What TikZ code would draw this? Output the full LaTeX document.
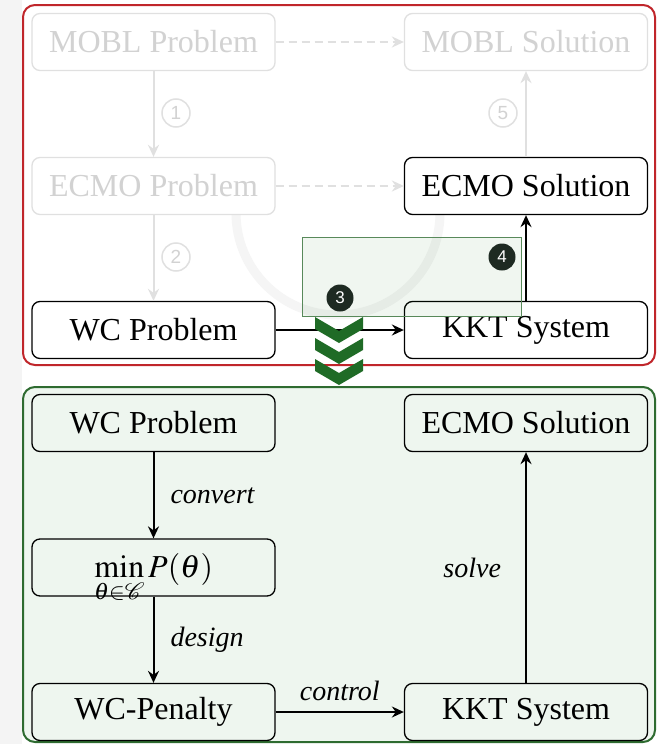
\documentclass[tikz,border=0pt]{standalone}
\usepackage{mathptmx}
\usepackage{fontspec}
\setmainfont{Liberation Serif}
\newfontfamily\numfont{Liberation Sans}
\usetikzlibrary{arrows.meta}
\definecolor{fadeline}{HTML}{E0E0E0}
\definecolor{fadetext}{HTML}{D2D2D2}
\definecolor{redframe}{HTML}{C0262B}
\definecolor{greenframe}{HTML}{2E6B30}
\definecolor{greenfill}{HTML}{EEF6EF}
\definecolor{chev}{HTML}{1F6B26}
\definecolor{darkdot}{HTML}{1E2A22}
\tikzset{
  box/.style={draw=black, line width=1.3pt, rounded corners=8pt, fill=white,
    minimum width=243pt, minimum height=57pt, inner sep=0pt,
    font=\fontsize{32}{38}\selectfont},
  fadedbox/.style={box, draw=fadeline, text=fadetext},
  gbox/.style={box, fill=greenfill},
  lbl/.style={font=\fontsize{28}{34}\selectfont\itshape, inner sep=0pt},
  arr/.style={line width=2pt, -{Stealth[length=12pt,width=11pt,inset=4pt]}},
  farr/.style={line width=2pt, draw=fadeline, -{Stealth[length=12pt,width=11pt,inset=4pt]}},
  dotnum/.style={circle, fill=darkdot, text=white, minimum size=27pt, inner sep=0pt,
    font=\numfont\fontsize{17}{20}\selectfont},
  ringnum/.style={circle, draw=fadeline, line width=1.5pt, text=fadetext, minimum size=28pt,
    inner sep=0pt, font=\numfont\fontsize{19}{22}\selectfont},
  chevron/.style={fill=chev},
}
\begin{document}
\begin{tikzpicture}[x=1pt,y=-1pt]
\useasboundingbox (0,0) rectangle (658,744);
\fill[white] (0,0) rectangle (658,744);
\fill[gray!9] (0,0) rectangle (22,744);

% faint background arc
\draw[line width=9pt, gray!8] (236,213) arc[start angle=180, end angle=0, radius=102];

% red frame (top panel)
\draw[redframe, line width=2pt, rounded corners=12pt] (23,5) rectangle (655,365);

% top panel nodes
\node[fadedbox] (mp) at (153.5,42) {MOBL Problem};
\node[fadedbox] (ms) at (526,42) {MOBL Solution};
\node[fadedbox] (ep) at (153.5,186) {ECMO Problem};
\node[box] (es) at (526,186) {ECMO Solution};
\node[box] (wc) at (153.5,330) {WC Problem};
\node[box] (kkt) at (526,330) {KKT System};

\draw[farr] (mp.south) -- (ep.north);
\draw[farr] (ep.south) -- (wc.north);
\draw[farr] (es.north) -- (ms.south);
\draw[farr, dashed, dash pattern=on 8pt off 5pt] (mp.east) -- (ms.west);
\draw[farr, dashed, dash pattern=on 8pt off 5pt] (ep.east) -- (es.west);

\node[ringnum] (c1) at (176,113) {1};
\node[ringnum] (c2) at (176,257) {2};
\node[ringnum] (c5) at (503,113) {5};

\draw[arr] (wc.east) -- (kkt.west);
\draw[arr] (kkt.north) -- (es.south);

% green highlight
\draw[greenframe!80, line width=1pt, fill=green!40!black, fill opacity=0.06] (302,237) rectangle (521,316);

\node[dotnum] (c3) at (340,298) {3};
\node[dotnum] (c4) at (502,257) {4};

% bottom panel
\draw[greenframe, line width=2pt, fill=greenfill, rounded corners=12pt] (23,387) rectangle (655,742);

\node[gbox] (wc2) at (153.5,423) {WC Problem};
\node[gbox] (es2) at (526,423) {ECMO Solution};
\node[gbox, text height=26pt, text depth=6pt] (minp) at (153.5,567.5) {$\min\limits_{\theta\in\mathcal{C}} P(\theta)$};
\node[gbox] (pen) at (153.5,712) {WC-Penalty};
\node[gbox] (kkt2) at (526,712) {KKT System};

\draw[arr] (wc2.south) -- node[lbl, right=16pt, pos=0.5] (lconv) {convert} (minp.north);
\draw[arr] (minp.south) -- node[lbl, right=16pt, pos=0.5] (ldes) {design} (pen.north);
\draw[arr] (pen.east) -- node[lbl, above=10pt, pos=0.5] (lctl) {control} (kkt2.west);
\draw[arr] (kkt2.north) -- node[lbl, left=24pt, pos=0.5] (lsol) {solve} (es2.south);

% chevrons
\foreach \yy in {317,338,359}{
  \fill[chevron] (315,\yy) -- (339,\yy+14) -- (363,\yy) -- (363,\yy+12) -- (339,\yy+26) -- (315,\yy+12) -- cycle;
}
\end{tikzpicture}
\end{document}
